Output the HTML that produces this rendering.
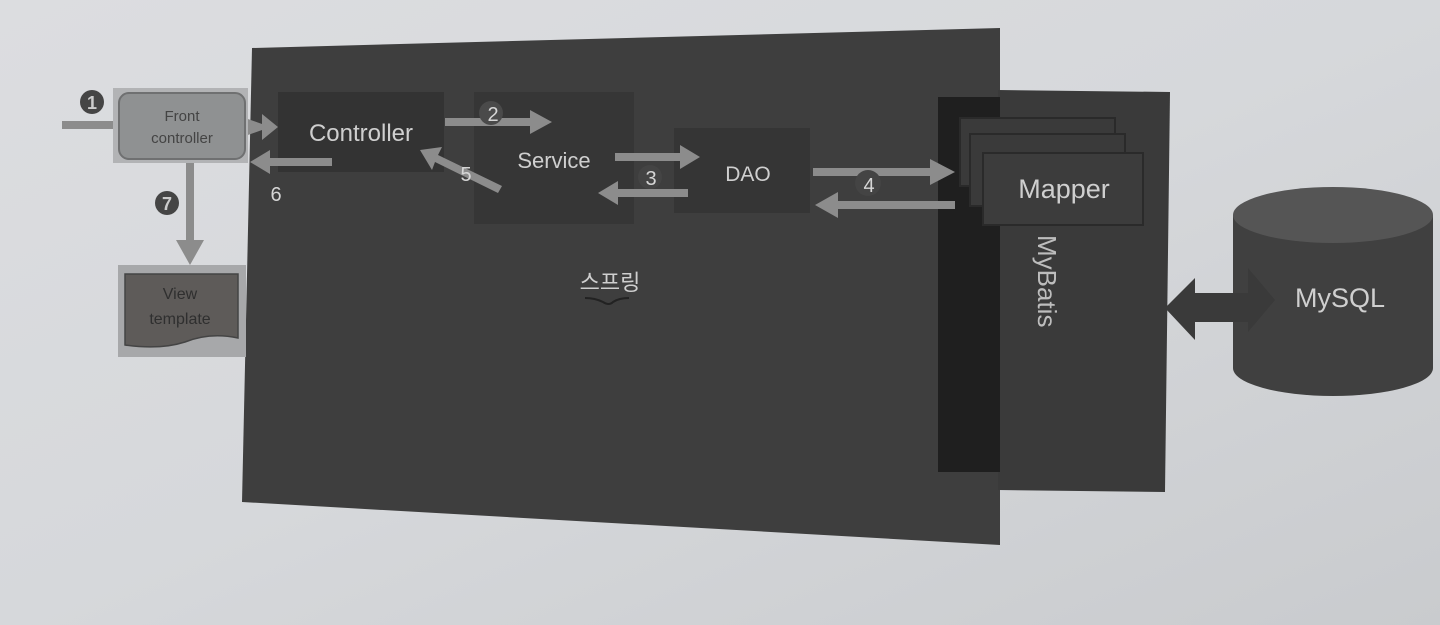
<!DOCTYPE html>
<html><head><meta charset="utf-8"><style>
html,body{margin:0;padding:0;width:1440px;height:625px;overflow:hidden;background:#d9dadc}
svg{display:block}
text{font-family:"Liberation Sans","Noto Sans CJK KR",sans-serif}
</style></head><body>
<svg width="1440" height="625" viewBox="0 0 1440 625" xmlns="http://www.w3.org/2000/svg">
<defs>
<linearGradient id="bg" x1="0" y1="0" x2="1" y2="1">
<stop offset="0" stop-color="#dcdde0"/><stop offset="0.5" stop-color="#d6d8db"/><stop offset="1" stop-color="#c9cbce"/>
</linearGradient>
</defs>
<rect width="1440" height="625" fill="url(#bg)"/>
<!-- Spring panel -->
<polygon points="252,48 1000,28 1000,545 242,502" fill="#3e3e3e"/>
<!-- MyBatis panel -->
<polygon points="998,90 1170,92 1165,492 998,490" fill="#3a3a3a"/>
<rect x="938" y="97" width="62" height="375" fill="#1f1f1f"/>
<!-- mapper stack -->
<rect x="960" y="118" width="155" height="68" fill="#3a3a3a" stroke="#2a2a2a" stroke-width="2"/>
<rect x="970" y="134" width="155" height="72" fill="#3a3a3a" stroke="#2a2a2a" stroke-width="2"/>
<rect x="983" y="153" width="160" height="72" fill="#3c3c3c" stroke="#2a2a2a" stroke-width="2"/>
<text x="1064" y="198" font-size="27" fill="#cfcfcf" text-anchor="middle">Mapper</text>
<text transform="translate(1038,235) rotate(90)" font-size="26" fill="#bdbdbd">MyBatis</text>
<!-- inner boxes -->
<rect x="278" y="92" width="166" height="80" fill="#333"/>
<rect x="474" y="92" width="160" height="132" fill="#363636"/>
<rect x="674" y="128" width="136" height="85" fill="#353535"/>
<text x="361" y="141" font-size="24" fill="#cfcfcf" text-anchor="middle">Controller</text>
<text x="554" y="168" font-size="22" fill="#cfcfcf" text-anchor="middle">Service</text>
<text x="748" y="181" font-size="21" fill="#cfcfcf" text-anchor="middle">DAO</text>
<text x="610" y="290" font-size="22" fill="#cfcfcf" text-anchor="middle">스프링</text>
<path d="M585,298 q10,0 18,4 q6,4 10,0 q6,-4 16,-4" stroke="#222" stroke-width="2" fill="none"/>
<!-- arrows -->
<g fill="#8c8c8c">
<polygon points="445,118 530,118 530,110 552,122 530,134 530,126 445,126"/>
<polygon points="332,158 270,158 270,150 250,162 270,174 270,166 332,166"/>
<polygon points="615,153 680,153 680,145 700,157 680,169 680,161 615,161"/>
<polygon points="688,189 618,189 618,181 598,193 618,205 618,197 688,197"/>
<polygon points="813,168 930,168 930,159 955,172 930,185 930,176 813,176"/>
<polygon points="955,201 838,201 838,192 815,205 838,218 838,209 955,209"/>
<polygon points="502,186 438,155 442,147 420,150 432,170 435,162 498,193"/>
<polygon points="245,118 262,124 262,114 278,127 262,140 262,130 245,136"/>
<polygon points="186,163 194,163 194,240 204,240 190,265 176,240 186,240"/>
<rect x="62" y="121" width="58" height="8"/>
</g>
<!-- number labels -->
<g font-size="20" fill="#d6d6d6" text-anchor="middle">
<circle cx="491" cy="113" r="12" fill="#4a4a4a"/><text x="493" y="121">2</text>
<circle cx="650" cy="177" r="12" fill="#444"/><text x="651" y="185">3</text>
<circle cx="868" cy="183" r="13" fill="#444"/><text x="869" y="192">4</text>
<text x="466" y="181">5</text>
<text x="276" y="201">6</text>
</g>
<circle cx="92" cy="102" r="12" fill="#454545"/><text x="92" y="109" font-size="18" font-weight="bold" fill="#ccc" text-anchor="middle">1</text>
<circle cx="167" cy="203" r="12" fill="#454545"/><text x="167" y="210" font-size="18" font-weight="bold" fill="#ccc" text-anchor="middle">7</text>
<!-- front controller -->
<rect x="113" y="88" width="135" height="75" fill="#b2b3b5"/>
<rect x="119" y="93" width="126" height="66" rx="10" fill="#8f9192" stroke="#6f7071" stroke-width="2"/>
<text x="182" y="121" font-size="15" fill="#444" text-anchor="middle">Front</text>
<text x="182" y="143" font-size="15" fill="#444" text-anchor="middle">controller</text>
<!-- view template -->
<rect x="118" y="265" width="128" height="92" fill="#a7a8aa"/>
<path d="M125,274 L238,274 L238,338 Q210,332 185,342 Q160,350 125,345 Z" fill="#5e5b59" stroke="#444" stroke-width="1.5"/>
<text x="180" y="299" font-size="16" fill="#2f2f2f" text-anchor="middle">View</text>
<text x="180" y="324" font-size="16" fill="#2f2f2f" text-anchor="middle">template</text>
<!-- MySQL -->
<path d="M1233,215 L1233,368 A100,28 0 0 0 1433,368 L1433,215 Z" fill="#404040"/>
<ellipse cx="1333" cy="215" rx="100" ry="28" fill="#555"/>
<text x="1340" y="307" font-size="27" fill="#cfcfcf" text-anchor="middle">MySQL</text>
<polygon points="1165,308 1195,278 1195,293 1248,293 1248,268 1275,300 1248,332 1248,322 1195,322 1195,340" fill="#3a3a3a"/>
</svg>
</body></html>
